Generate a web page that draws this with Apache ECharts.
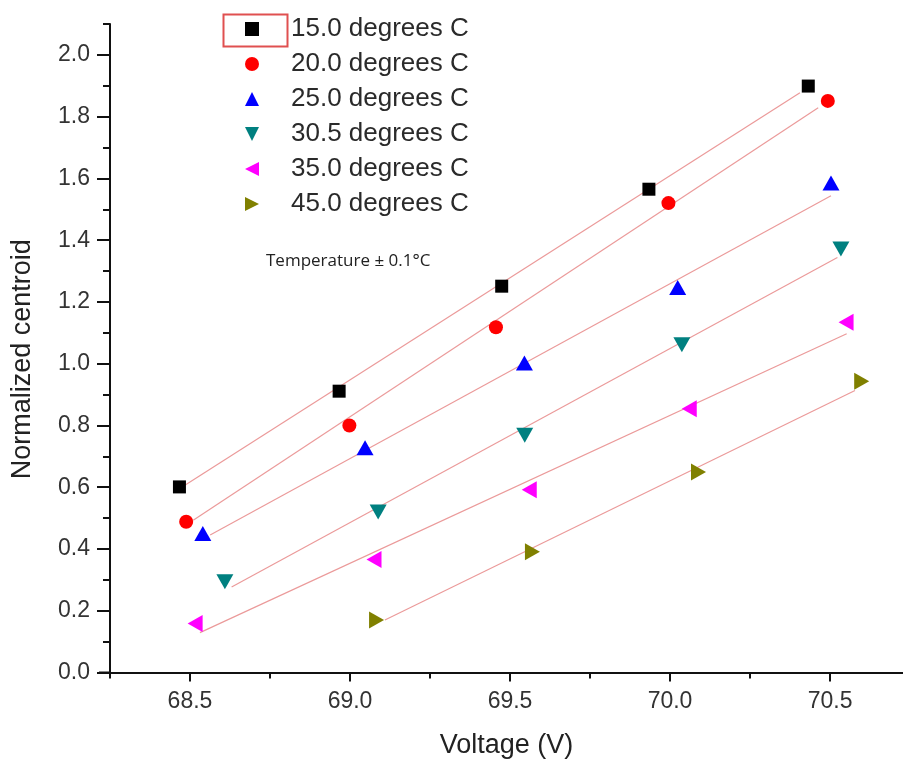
<!DOCTYPE html>
<html>
<head>
<meta charset="utf-8">
<script src="https://cdn.jsdelivr.net/npm/echarts@6/dist/echarts.min.js"></script>
<style>html,body{margin:0;padding:0;background:#fff}#c{width:903px;height:766px}</style>
</head>
<body>
<div id="c"></div>
<script>
// ---- data ----
const seriesNames = ['15.0 degrees C','20.0 degrees C','25.0 degrees C','30.5 degrees C','35.0 degrees C','45.0 degrees C'];
const volt15  = [68.467, 68.966, 69.474, 69.934, 70.432];
const cent15  = [0.601, 0.911, 1.251, 1.565, 1.899];
const volt20  = [68.488, 68.998, 69.456, 69.995, 70.493];
const cent20  = [0.488, 0.800, 1.118, 1.520, 1.851];
const volt25  = [68.540, 69.047, 69.545, 70.024, 70.503];
const cent25  = [0.450, 0.728, 1.002, 1.247, 1.585];
const volt305 = [68.609, 69.088, 69.546, 70.037, 70.534];
const cent305 = [0.294, 0.520, 0.768, 1.061, 1.371];
const volt35  = [68.516, 69.075, 69.560, 70.060, 70.550];
const cent35  = [0.159, 0.366, 0.592, 0.854, 1.134];
const volt45  = [69.083, 69.570, 70.089, 70.599];
const cent45  = [0.170, 0.391, 0.649, 0.943];
// linear-fit line end points
const fitVolt15  = [68.484, 70.406], fitCent15  = [0.606, 1.877];
const fitVolt20  = [68.510, 70.463], fitCent20  = [0.493, 1.829];
const fitVolt25  = [68.563, 70.503], fitCent25  = [0.445, 1.544];
const fitVolt305 = [68.630, 70.523], fitCent305 = [0.277, 1.344];
const fitVolt35  = [68.531, 70.552], fitCent35  = [0.129, 1.097];
const fitVolt45  = [69.109, 70.578], fitCent45  = [0.170, 0.913];
// axis ticks
const xMajorTicks = [68.5, 69.0, 69.5, 70.0, 70.5];
const xMinorTicks = [68.25, 68.75, 69.25, 69.75, 70.25];
const yMajorTicks = [0.0, 0.2, 0.4, 0.6, 0.8, 1.0, 1.2, 1.4, 1.6, 1.8, 2.0];
const yMinorTicks = [0.1, 0.3, 0.5, 0.7, 0.9, 1.1, 1.3, 1.5, 1.7, 1.9, 2.1];
const annotation = 'Temperature \u00B1 0.1\u00B0C';

// ---- presentation ----
const colors = ['#000000', '#ff0000', '#0000ff', '#008080', '#ff00ff', '#808000'];
const symbols = [
  'rect', 'circle',
  'path://M0,10 L10,10 L5,0 Z',
  'path://M0,0 L10,0 L5,10 Z',
  'path://M10,0 L10,10 L0,5 Z',
  'path://M0,0 L0,10 L10,5 Z'
];
const sizes = [13, 14, [17, 15], [17, 15], [15, 17], [15, 17]];
const volts = [volt15, volt20, volt25, volt305, volt35, volt45];
const cents = [cent15, cent20, cent25, cent305, cent35, cent45];
const fitV = [fitVolt15, fitVolt20, fitVolt25, fitVolt305, fitVolt35, fitVolt45];
const fitC = [fitCent15, fitCent20, fitCent25, fitCent305, fitCent35, fitCent45];
const zip = (a, b) => a.map((v, i) => [v, b[i]]);
const FONT = 'Liberation Sans, Arial, sans-serif';

const series = [];
for (let i = 0; i < 6; i++) {
  series.push({
    name: seriesNames[i] + ' fit', type: 'line', data: zip(fitV[i], fitC[i]),
    symbol: 'none', silent: true, z: 1,
    lineStyle: { color: '#eb9a9a', width: 1.2 }
  });
}
for (let i = 0; i < 6; i++) {
  series.push({
    name: seriesNames[i], type: 'scatter', data: zip(volts[i], cents[i]),
    symbol: symbols[i], symbolSize: sizes[i], z: 3,
    itemStyle: { color: colors[i], opacity: 1 }
  });
}

const chart = echarts.init(document.getElementById('c'), null, { renderer: 'canvas' });
chart.setOption({
  animation: false,
  backgroundColor: '#ffffff',
  grid: { left: 110, top: 24, right: 0, bottom: 93.5, containLabel: false },
  legend: {
    data: seriesNames, orient: 'vertical', left: 240, top: 9,
    itemWidth: 14, itemHeight: 14, itemGap: 5,
    textStyle: { fontFamily: FONT, fontSize: 26, color: '#2a2a2a', lineHeight: 30, padding: [0, 0, 0, 27] }
  },
  xAxis: [{
    type: 'value', min: 68.25, max: 70.728, interval: 0.25,
    name: 'Voltage (V)', nameLocation: 'middle', nameGap: 60,
    nameTextStyle: { fontFamily: FONT, fontSize: 27, color: '#222' },
    axisLine: { onZero: false, lineStyle: { color: '#111', width: 2 } },
    axisTick: { customValues: xMajorTicks, length: 9, lineStyle: { color: '#111', width: 2 } },
    axisLabel: { customValues: xMajorTicks, margin: 18, fontFamily: FONT, fontSize: 23, color: '#333',
                 formatter: v => v.toFixed(1) },
    splitLine: { show: false }
  }, {
    type: 'value', position: 'bottom', min: 68.25, max: 70.728, interval: 0.25,
    axisLine: { show: false },
    axisTick: { customValues: xMinorTicks, length: 6, lineStyle: { color: '#111', width: 2 } },
    axisLabel: { show: false }, splitLine: { show: false }
  }],
  yAxis: [{
    type: 'value', min: 0, max: 2.1, interval: 0.1,
    name: 'Normalized centroid', nameLocation: 'middle', nameGap: 74,
    nameTextStyle: { fontFamily: FONT, fontSize: 27, color: '#222', padding: [0, 22, 0, 0] },
    axisLine: { onZero: false, lineStyle: { color: '#111', width: 2 } },
    axisTick: { customValues: yMajorTicks, length: 13, lineStyle: { color: '#111', width: 2 } },
    axisLabel: { customValues: yMajorTicks, margin: 20, fontFamily: FONT, fontSize: 23, color: '#333',
                 formatter: v => v.toFixed(1) },
    splitLine: { show: false }
  }, {
    type: 'value', position: 'left', min: 0, max: 2.1, interval: 0.1,
    axisLine: { show: false },
    axisTick: { customValues: yMinorTicks, length: 7, lineStyle: { color: '#111', width: 2 } },
    axisLabel: { show: false }, splitLine: { show: false }
  }],
  graphic: [
    { type: 'rect', left: 221, top: 12, shape: { width: 64, height: 32 },
      style: { fill: 'none', stroke: '#e05050', lineWidth: 2 }, z: 10 },
    { type: 'line', shape: { x1: 99, y1: 672.5, x2: 111, y2: 672.5 },
      style: { stroke: '#111', lineWidth: 2 }, z: 10 },
    { type: 'text', left: 266, top: 253,
      style: { text: annotation, fontFamily: 'Open Sans, Liberation Sans, sans-serif', fontSize: 17, fill: '#222' }, z: 10 }
  ],
  series: series
});
</script>
</body>
</html>
